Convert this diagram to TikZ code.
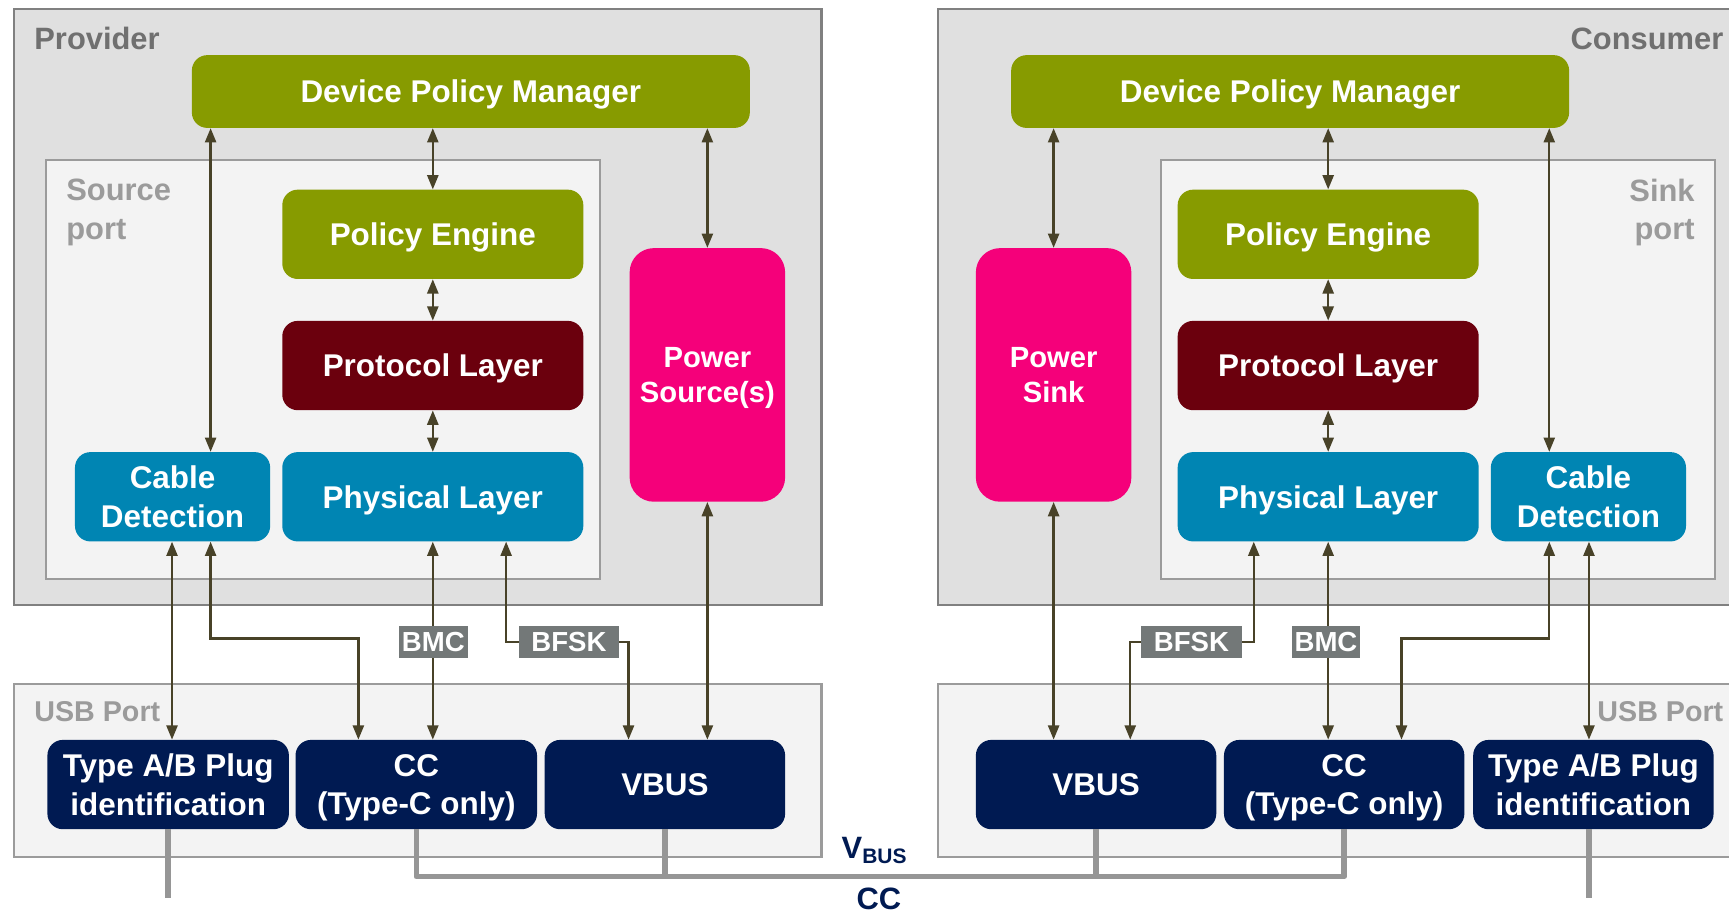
\documentclass[tikz,border=0pt]{standalone}
\usepackage{fontspec}
\setmainfont{Liberation Sans}
\usetikzlibrary{arrows.meta,calc}
\definecolor{olv}{RGB}{135,155,0}
\definecolor{dred}{RGB}{107,0,13}
\definecolor{cblue}{RGB}{0,133,179}
\definecolor{pnk}{RGB}{245,0,122}
\definecolor{nvy}{RGB}{0,26,82}
\definecolor{outfill}{RGB}{224,224,224}
\definecolor{outline}{RGB}{128,128,128}
\definecolor{infill}{RGB}{243,243,243}
\definecolor{inline}{RGB}{155,155,155}
\definecolor{arrc}{RGB}{72,66,40}
\definecolor{tagc}{RGB}{115,120,120}
\definecolor{busc}{RGB}{150,150,150}
\definecolor{lblA}{RGB}{112,112,112}
\definecolor{lblB}{RGB}{155,155,155}
\begin{document}
\begin{tikzpicture}[x=1pt,y=-1pt,
  outerbox/.style={draw=outline,fill=outfill,line width=2pt},
  innerbox/.style={draw=inline,fill=infill,line width=2pt},
  blk/.style={rounded corners=14pt,text=white,align=center,inner sep=0pt,text depth=0pt,
    font=\fontsize{28.5}{35}\selectfont\bfseries},
  pwr/.style={blk,fill=pnk,rounded corners=22pt,minimum width=141pt,minimum height=230pt,
    font=\fontsize{26.5}{31}\selectfont\bfseries},
  grp/.style={font=\fontsize{28}{35}\selectfont\bfseries,text=lblA,inner sep=0pt},
  prt/.style={font=\fontsize{28}{35}\selectfont\bfseries,text=lblB,inner sep=0pt},
  usbl/.style={font=\fontsize{26}{30}\selectfont\bfseries,text=lblB,inner sep=0pt},
  arr/.style={draw=arrc,line width=2.2pt,{Triangle[length=13pt,width=10pt]}-{Triangle[length=13pt,width=10pt]}},
  tag/.style={fill=tagc,text=white,inner xsep=0pt,inner ysep=0pt,minimum height=29pt,
    font=\fontsize{25}{28}\selectfont\bfseries},
  bus/.style={draw=busc,line width=5pt},
  buslbl/.style={text=nvy,inner sep=0pt,font=\fontsize{28}{32}\selectfont\bfseries}
]
\useasboundingbox (0,0) rectangle (1568,828);
\clip (0,0) rectangle (1568,828);
\fill[white] (0,0) rectangle (1568,828);

% ---------- containers ----------
\draw[outerbox] (13,8) rectangle (745,549);
\draw[outerbox] (851,8) rectangle (1600,549);
\draw[innerbox] (42,145) rectangle (544,525);
\draw[innerbox] (1053,145) rectangle (1555,525);
\draw[innerbox] (13,620) rectangle (745,777);
\draw[innerbox] (851,620) rectangle (1600,777);

\node[grp,anchor=west] (provlbl) at (31,35) {Provider};
\node[grp,anchor=east] (conslbl) at (1563,35) {Consumer};
\node[prt,anchor=north west,align=left] (srclbl) at (60,162) {Source\\port};
\node[prt,anchor=north east,align=right] (snklbl) at (1537,162) {Sink\\port};
\node[usbl,anchor=west] (usbLlbl) at (31,645) {USB Port};
\node[usbl,anchor=east] (usbRlbl) at (1563,645) {USB Port};

% ---------- provider blocks ----------
\node[blk,fill=olv,minimum width=506pt,minimum height=66pt] (dpmL) at (427,83) {Device Policy Manager};
\node[blk,fill=olv,minimum width=273pt,minimum height=81pt] (peL) at (392.5,212.5) {Policy Engine};
\node[blk,fill=dred,minimum width=273pt,minimum height=81pt] (plL) at (392.5,331.5) {Protocol Layer};
\node[blk,fill=cblue,minimum width=273pt,minimum height=81pt] (phL) at (392.5,450.5) {Physical Layer};
\node[blk,fill=cblue,minimum width=177pt,minimum height=81pt] (cdL) at (156.5,450.5) {Cable\\Detection};
\node[pwr] (psL) at (641.5,340) {Power\\Source(s)};
\node[blk,fill=nvy,minimum width=219pt,minimum height=81pt] (tabL) at (152.5,711.5) {Type A/B Plug\\identification};
\node[blk,fill=nvy,minimum width=219pt,minimum height=81pt] (ccL) at (377.5,711.5) {CC\\(Type-C only)};
\node[blk,fill=nvy,minimum width=218pt,minimum height=81pt] (vbL) at (603,711.5) {VBUS};

% ---------- consumer blocks ----------
\node[blk,fill=olv,minimum width=506pt,minimum height=66pt] (dpmR) at (1170,83) {Device Policy Manager};
\node[blk,fill=olv,minimum width=273pt,minimum height=81pt] (peR) at (1204.5,212.5) {Policy Engine};
\node[blk,fill=dred,minimum width=273pt,minimum height=81pt] (plR) at (1204.5,331.5) {Protocol Layer};
\node[blk,fill=cblue,minimum width=273pt,minimum height=81pt] (phR) at (1204.5,450.5) {Physical Layer};
\node[blk,fill=cblue,minimum width=177pt,minimum height=81pt] (cdR) at (1440.5,450.5) {Cable\\Detection};
\node[pwr] (psR) at (955.5,340) {Power\\Sink};
\node[blk,fill=nvy,minimum width=218pt,minimum height=81pt] (vbR) at (994,711.5) {VBUS};
\node[blk,fill=nvy,minimum width=218pt,minimum height=81pt] (ccR) at (1219,711.5) {CC\\(Type-C only)};
\node[blk,fill=nvy,minimum width=218pt,minimum height=81pt] (tabR) at (1445,711.5) {Type A/B Plug\\identification};

% ---------- x positions ----------
\coordinate (xa) at (191,0);
\coordinate (xb) at (156,0);
\coordinate (xc) at (325,0);
\coordinate (xd) at (392.5,0);
\coordinate (xe) at (459,0);
\coordinate (xf) at (570,0);
\coordinate (xg) at (641.5,0);
\coordinate (ya) at (0,579);
\coordinate (yb) at (0,582);

\coordinate (Xa) at (955.5,0);
\coordinate (Xb) at (1025,0);
\coordinate (Xc) at (1137,0);
\coordinate (Xd) at (1204.5,0);
\coordinate (Xe) at (1271,0);
\coordinate (Xf) at (1405,0);
\coordinate (Xg) at (1441,0);

% ---------- provider connectors ----------
\draw[arr] (dpmL.south -| xa) -- (cdL.north -| xa);
\draw[arr] (dpmL.south -| xd) -- (peL.north);
\draw[arr] (dpmL.south -| xg) -- (psL.north);
\draw[arr] (peL.south) -- (plL.north);
\draw[arr] (plL.south) -- (phL.north);
\draw[arr] (cdL.south -| xb) -- (tabL.north -| xb);
\draw[arr] (cdL.south -| xa) -- (xa |- ya) -| (ccL.north -| xc);
\draw[arr] (phL.south) -- (ccL.north -| xd);
\draw[arr] (phL.south -| xe) -- (xe |- yb) -| (vbL.north -| xf);
\draw[arr] (psL.south) -- (vbL.north -| xg);
\node[tag,minimum width=62pt] (bmcL) at (393,582) {BMC};
\node[tag,minimum width=91pt] (bfskL) at (516,582) {BFSK};

% ---------- consumer connectors ----------
\draw[arr] (dpmR.south -| Xa) -- (psR.north);
\draw[arr] (dpmR.south -| Xd) -- (peR.north);
\draw[arr] (dpmR.south -| Xf) -- (cdR.north -| Xf);
\draw[arr] (peR.south) -- (plR.north);
\draw[arr] (plR.south) -- (phR.north);
\draw[arr] (psR.south) -- (vbR.north -| Xa);
\draw[arr] (phR.south -| Xc) -- (Xc |- yb) -| (vbR.north -| Xb);
\draw[arr] (phR.south) -- (ccR.north -| Xd);
\draw[arr] (cdR.south -| Xf) -- (Xf |- ya) -| (ccR.north -| Xe);
\draw[arr] (cdR.south -| Xg) -- (tabR.north -| Xg);
\node[tag,minimum width=91pt] (bfskR) at (1080.5,582) {BFSK};
\node[tag,minimum width=62pt] (bmcR) at (1202.5,582) {BMC};

% ---------- bus ----------
\coordinate (busy) at (0,795);
\coordinate (endy) at (0,814);
\draw[bus] (tabL.south) -- (tabL.south |- endy);
\draw[bus] (tabR.south -| Xg) -- (Xg |- endy);
\draw[bus,line join=round] (ccL.south) -- (ccL.south |- busy) -- (ccR.south |- busy) -- (ccR.south);
\draw[bus] (vbL.south) -- (vbL.south |- busy);
\draw[bus] (vbR.south) -- (vbR.south |- busy);
\node[buslbl] (vbuslbl) at (793,771) {V\textsubscript{\fontsize{19}{20}\selectfont BUS}};
\node[buslbl] (cclbl) at (797,815) {CC};
\end{tikzpicture}
\end{document}
